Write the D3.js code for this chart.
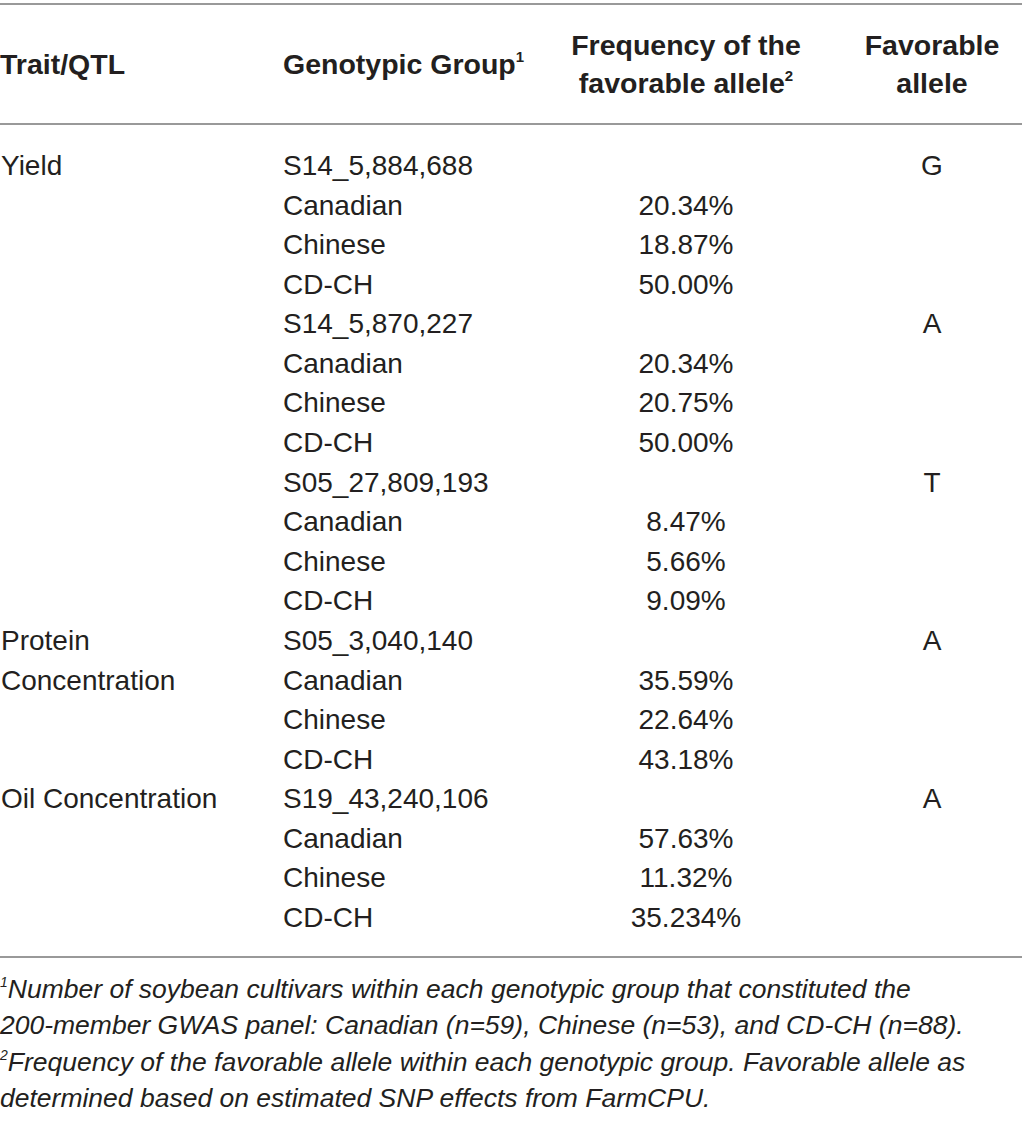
<!DOCTYPE html>
<html>
<head>
<meta charset="utf-8">
<script src="https://cdn.jsdelivr.net/npm/d3@7"></script>
<style>
  body { margin: 0; background: #fff; }
  svg text { font-family: "Liberation Sans", Arial, sans-serif; fill: #231f20; }
</style>
</head>
<body>
<svg id="table" width="1022" height="1121"></svg>
<script>
// table content
const markers = ["S14_5,884,688", "S14_5,870,227", "S05_27,809,193", "S05_3,040,140", "S19_43,240,106"];
const markerTraits = ["Yield", "", "", "Protein Concentration", "Oil Concentration"];
const favorableAlleles = ["G", "A", "T", "A", "A"];
const groups = ["Canadian", "Chinese", "CD-CH"];
const frequencies = [
    ["20.34%", "18.87%", "50.00%"],
    ["20.34%", "20.75%", "50.00%"],
    ["8.47%", "5.66%", "9.09%"],
    ["35.59%", "22.64%", "43.18%"],
    ["57.63%", "11.32%", "35.234%"]
];
const traitWraps = { "Protein Concentration": ["Protein", "Concentration"] };
const footnotes = [
    { sup: "1", text: "Number of soybean cultivars within each genotypic group that constituted the" },
    { sup: "", text: "200-member GWAS panel: Canadian (n=59), Chinese (n=53), and CD-CH (n=88)." },
    { sup: "2", text: "Frequency of the favorable allele within each genotypic group. Favorable allele as" },
    { sup: "", text: "determined based on estimated SNP effects from FarmCPU." }
];

// flatten into rows: marker row followed by its groups
let rows = [];
markers.forEach((m, i) => {
    let trait = markerTraits[i];
    let lines = traitWraps[trait] || (trait ? [trait] : []);
    rows.push({ trait: lines[0] || "", group: m, freq: "", allele: favorableAlleles[i] });
    groups.forEach((g, j) => {
        rows.push({ trait: lines[j + 1] || "", group: g, freq: frequencies[i][j], allele: "" });
    });
});

let svg = d3.select("#table");
let width = parseInt(svg.attr("width"));

let y = d3.scaleLinear().domain([0, rows.length - 1]).range([175, 927]);
let col = { trait: 0, group: 283, freq: 686, allele: 932 };

// rules
[4, 124, 957].forEach(ly => {
    svg.append("line")
        .attr("x1", 0).attr("x2", width)
        .attr("y1", ly).attr("y2", ly)
        .attr("stroke", "#999")
        .attr("stroke-width", 2);
});

// header
let header = svg.append("g").attr("font-weight", "bold").attr("font-size", 28.5);
header.append("text").attr("x", col.trait).attr("y", 74).text("Trait/QTL");
let gh = header.append("text").attr("x", col.group).attr("y", 74).text("Genotypic Group");
gh.append("tspan").attr("font-size", 15).attr("dy", -12).text("1");

let fh = header.append("text").attr("text-anchor", "middle");
fh.append("tspan").attr("x", col.freq).attr("y", 55).text("Frequency of the");
fh.append("tspan").attr("x", col.freq).attr("y", 93).text("favorable allele");
fh.append("tspan").attr("font-size", 15).attr("dy", -12).text("2");

let ah = header.append("text").attr("text-anchor", "middle");
ah.append("tspan").attr("x", col.allele).attr("y", 55).text("Favorable");
ah.append("tspan").attr("x", col.allele).attr("y", 93).text("allele");

// body rows
let body = svg.append("g").attr("font-size", 28);
let rowG = body.selectAll(".row")
    .data(rows)
    .enter()
    .append("g")
    .attr("class", "row")
    .attr("transform", (d, i) => `translate(0, ${y(i)})`);

rowG.append("text").attr("x", col.trait + 1).text(d => d.trait);
rowG.append("text").attr("x", col.group).text(d => d.group);
rowG.append("text").attr("x", col.freq).attr("text-anchor", "middle").text(d => d.freq);
rowG.append("text").attr("x", col.allele).attr("text-anchor", "middle").text(d => d.allele);

// footnotes
let fy = d3.scaleLinear().domain([0, footnotes.length - 1]).range([998, 1107]);
let notes = svg.append("g").attr("font-size", 26.5).attr("font-style", "italic");
notes.selectAll(".note")
    .data(footnotes)
    .enter()
    .append("text")
    .attr("class", "note")
    .attr("x", 0)
    .attr("y", (d, i) => fy(i))
    .each(function(d) {
        let t = d3.select(this);
        if (d.sup) t.append("tspan").attr("font-size", 14).attr("dy", -11).text(d.sup);
        t.append("tspan").attr("dy", d.sup ? 11 : 0).text(d.text);
    });
</script>
</body>
</html>
